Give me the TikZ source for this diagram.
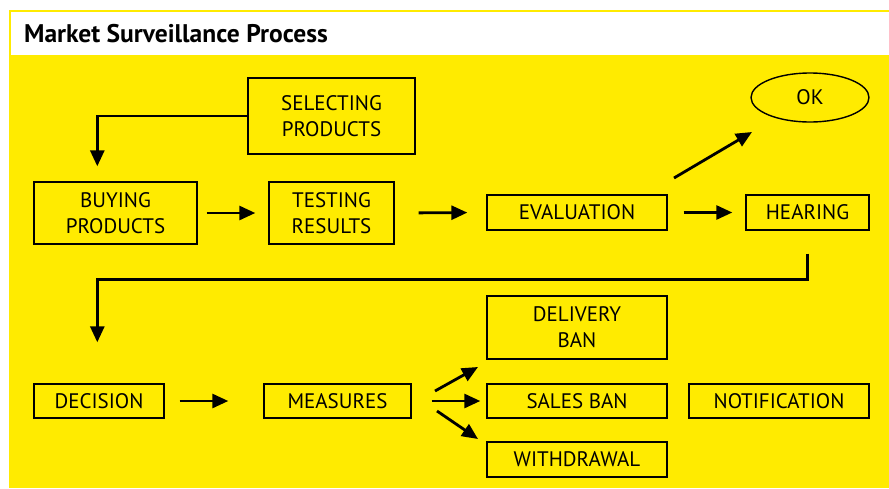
\documentclass[tikz,border=0pt]{standalone}
\usepackage{fontspec}
\setmainfont{PT Sans}
\usetikzlibrary{arrows.meta,shapes.geometric,calc}
\definecolor{msyellow}{RGB}{255,235,0}
\tikzset{
  box/.style={draw=black, line width=1.4pt, inner sep=0pt, align=center,
    font=\fontsize{21}{26}\selectfont, text=black},
  oval/.style={box, ellipse},
  arr/.style={line width=2.8pt, -{Triangle[length=16pt,width=14pt]}},
}
\begin{document}
\begin{tikzpicture}[x=1pt,y=-1pt]
\useasboundingbox (0,0) rectangle (889,488);
\fill[white] (0,0) rectangle (889,488);
\fill[msyellow] (9,10) rectangle (889,488);
\fill[white] (11,12) rectangle (889,55);
\node[anchor=base west, inner sep=0pt, font=\fontsize{25.5}{28}\selectfont\bfseries] (title) at (24,42) {Market Surveillance Process};

\node[box, minimum width=167pt, minimum height=76pt] (sel) at (331.5,116) {SELECTING\\PRODUCTS};
\node[box, minimum width=163pt, minimum height=62pt] (buy) at (115.5,213) {BUYING\\PRODUCTS};
\node[box, minimum width=125pt, minimum height=62pt] (test) at (331.5,213) {TESTING\\RESULTS};
\node[box, minimum width=180pt, minimum height=35pt] (eval) at (577,212.5) {EVALUATION};
\node[box, minimum width=123pt, minimum height=35pt] (hear) at (807.5,212.5) {HEARING};
\node[oval, minimum width=118pt, minimum height=49pt] (ok) at (810,97.5) {OK};
\node[box, minimum width=130pt, minimum height=34pt] (dec) at (99,401) {DECISION};
\node[box, minimum width=147pt, minimum height=34pt] (meas) at (337.5,401) {MEASURES};
\node[box, minimum width=180pt, minimum height=63pt] (deliv) at (577,327.5) {DELIVERY\\BAN};
\node[box, minimum width=180pt, minimum height=34pt] (sales) at (577,401) {SALES BAN};
\node[box, minimum width=180pt, minimum height=35pt] (withd) at (577,459.5) {WITHDRAWAL};
\node[box, minimum width=180pt, minimum height=34pt] (notif) at (779,401) {NOTIFICATION};

\coordinate (buyin) at ($(buy.north west)+(64,0)$);
\coordinate (decin) at ($(dec.north west)+(64,0)$);
\coordinate (evout) at (674,178);
\coordinate (okin) at (752,132);
\coordinate (mup0) at (435,391);
\coordinate (mup1) at (478,367);
\coordinate (mdn0) at (437,411);
\coordinate (mdn1) at (478,439);

\draw[arr, shorten >=15pt] (sel.west) -| (buyin);
\draw[arr, shorten <=9pt, shorten >=13pt] (buy.east) -- (test.west);
\draw[arr, shorten <=24pt, shorten >=19pt] (test.east) -- (eval.west);
\draw[arr, shorten <=16pt, shorten >=13pt] (eval.east) -- (hear.west);
\draw[arr] (evout) -- (okin);
\draw[arr, shorten <=23pt, shorten >=41pt] (hear.south) -- ++(0,49) -| (decin);
\draw[arr, shorten <=15pt, shorten >=35pt] (dec.east) -- (meas.west);
\draw[arr] (mup0) -- (mup1);
\draw[arr, shorten <=20pt, shorten >=6pt] (meas.east) -- (sales.west);
\draw[arr] (mdn0) -- (mdn1);
\end{tikzpicture}
\end{document}
